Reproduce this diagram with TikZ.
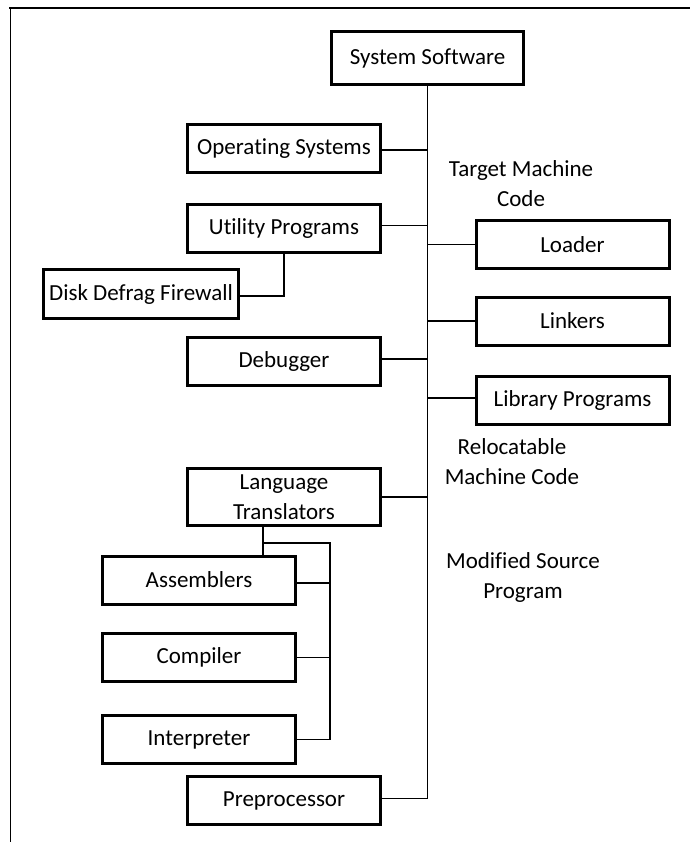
\documentclass[tikz,border=0pt]{standalone}
\usepackage{fontspec}
\setmainfont{Carlito}[Ligatures={NoCommon}]
\usetikzlibrary{positioning}

\tikzset{
  box/.style={draw, line width=3pt, minimum width=193pt, minimum height=48pt, align=center, inner sep=2pt},
  lbl/.style={align=center, inner sep=0pt},
  link/.style={line width=1.4pt},
}

\begin{document}
\begin{tikzpicture}[x=1pt, y=-1pt, font=\fontsize{23}{30}\selectfont]
  \useasboundingbox (0,0) rectangle (691,842);
  % frame
  \draw[line width=2.5pt] (9,8) -- (690,8);
  \draw[line width=1.6pt] (10.5,8) -- (10.5,842);

  % boxes
  \node[box, minimum width=192pt, minimum height=53pt] (sys) at (427.5,58.5) {System Software};
  \node[box] (os)   at (284,149)   {Operating Systems};
  \node[box] (util) at (284,228.5) {Utility Programs};
  \node[box, minimum width=195pt, minimum height=49pt] (disk) at (141,294) {Disk Defrag Firewall};
  \node[box] (dbg)  at (284,361)   {Debugger};
  \node[box, minimum height=57pt] (lt) at (284,497) {Language\\Translators};
  \node[box] (asm)  at (199,580)   {Assemblers};
  \node[box] (comp) at (199,657.5) {Compiler};
  \node[box] (intp) at (199,739.5) {Interpreter};
  \node[box] (pre)  at (284,800.5) {Preprocessor};
  \node[box] (load) at (572.5,244.5) {Loader};
  \node[box] (lnk)  at (572.5,321) {Linkers};
  \node[box] (lib)  at (572.5,400) {Library Programs};

  % labels
  \node[lbl] (tmc) at (521,184) {Target Machine\\Code};
  \node[lbl] (rmc) at (512,462) {Relocatable\\Machine Code};
  \node[lbl] (msp) at (523,577) {Modified Source\\Program};

  % trunk
  \draw[link] (sys.south) -- ([yshift=2pt]pre.east -| sys.south) -- ([yshift=2pt]pre.east);
  \draw[link] ([yshift=-1pt]os.east) -- ([yshift=-1pt]os.east -| sys.south);
  \draw[link] ([yshift=3pt]util.east) -- ([yshift=3pt]util.east -| sys.south);
  \draw[link] ([yshift=2pt]dbg.east) -- ([yshift=2pt]dbg.east -| sys.south);
  \draw[link] (lt.east) -- (lt.east -| sys.south);
  \draw[link] (load.west) -- (load.west -| sys.south);
  \draw[link] (lnk.west) -- (lnk.west -| sys.south);
  \draw[link] ([yshift=2pt]lib.west) -- ([yshift=2pt]lib.west -| sys.south);

  % utility branch
  \draw[link] (util.south) |- ([yshift=-2pt]disk.east);

  % translator branch
  \coordinate (bus) at (330,543);
  \draw[link] ([xshift=-21pt]lt.south) -- ([xshift=-21pt]lt.south |- asm.north);
  \draw[link] ([xshift=-21pt]lt.south |- bus) -- (bus) -- (bus |- intp.east) -- (intp.east);
  \draw[link] ([yshift=-3pt]asm.east) -- ([yshift=-3pt]asm.east -| bus);
  \draw[link] (comp.east) -- (comp.east -| bus);
\end{tikzpicture}
\end{document}
